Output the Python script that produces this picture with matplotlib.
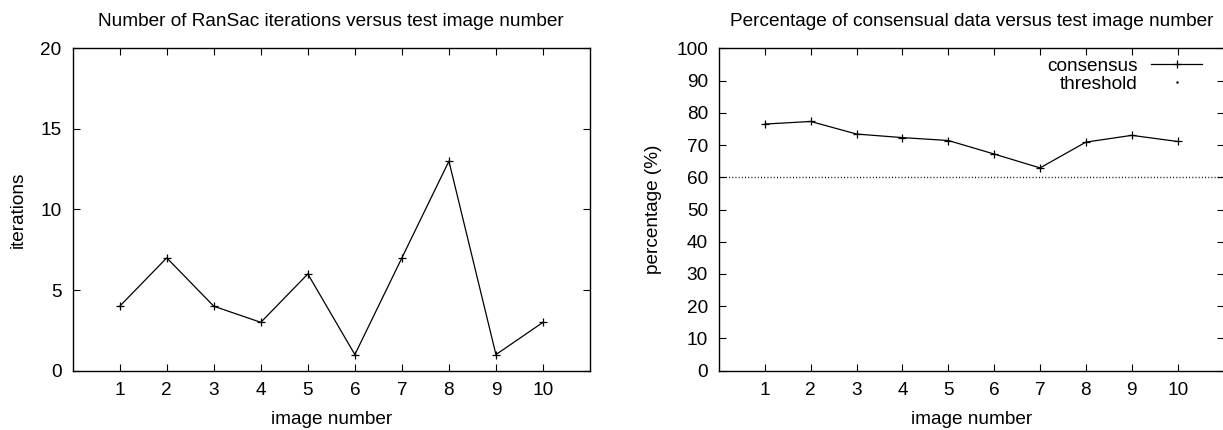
import matplotlib
matplotlib.use("Agg")
import matplotlib.pyplot as plt
from matplotlib.lines import Line2D

image_numbers = [1, 2, 3, 4, 5, 6, 7, 8, 9, 10]
iterations = [4, 7, 4, 3, 6, 1, 7, 13, 1, 3]
consensus = [76.5, 77.3, 73.4, 72.3, 71.4, 67.2, 62.9, 70.9, 73.0, 71.1]
threshold = 60
left_yticks = [0, 5, 10, 15, 20]
right_yticks = [0, 10, 20, 30, 40, 50, 60, 70, 80, 90, 100]

plt.rcParams['font.family'] = ['Liberation Sans', 'DejaVu Sans']
FS = 13.7

W, H = 1223, 430
fig = plt.figure(figsize=(W / 100, H / 100), dpi=100)

def px_axes(l, r, t, b):
    return fig.add_axes([l / W, 1 - b / H, (r - l) / W, (b - t) / H])

ax1 = px_axes(72.7, 590, 48.3, 370.7)
ax2 = px_axes(719, 1223.5, 48.3, 370.7)

for ax in (ax1, ax2):
    ax.set_xlim(0, 11)
    ax.set_xticks(image_numbers)
    ax.tick_params(direction='in', length=5, width=0.8, top=True, right=True,
                   labelsize=FS, pad=8, colors='black')
    for s in ax.spines.values():
        s.set_linewidth(1.0)
    ax.set_xlabel('image number', fontsize=FS, labelpad=9)

ax1.plot(image_numbers, iterations, color='black', lw=0.9, marker='+',
         markersize=6, mew=0.9)
ax1.set_ylim(0, 20)
ax1.set_yticks(left_yticks)
ax1.set_ylabel('iterations', fontsize=FS, labelpad=10)
ax1.set_title('Number of RanSac iterations versus test image number',
              fontsize=FS, pad=16)

ax2.plot(image_numbers, consensus, color='black', lw=0.9, marker='+',
         markersize=6, mew=0.9, label='consensus')
ax2.axhline(threshold, color='black', lw=1.0, linestyle=(0, (0.7, 1.6)))
ax2.set_ylim(0, 100)
ax2.set_yticks(right_yticks)
ax2.set_ylabel('percentage (%)', fontsize=FS, labelpad=10)
ax2.set_title('Percentage of consensual data versus test image number',
              fontsize=FS, pad=16)

h_cons = Line2D([], [], color='black', lw=0.9, marker='+', markersize=6, mew=0.9)
h_thr = Line2D([], [], color='black', lw=0, marker='.', markersize=1.5)
ax2.legend([h_cons, h_thr], ['consensus', 'threshold'], loc='upper right',
           bbox_to_anchor=(0.958, 0.972), frameon=False, markerfirst=False,
           fontsize=FS, handlelength=2.7, handletextpad=0.7, labelspacing=0.05,
           borderpad=0, borderaxespad=0)

fig.savefig('out.png', dpi=100)
